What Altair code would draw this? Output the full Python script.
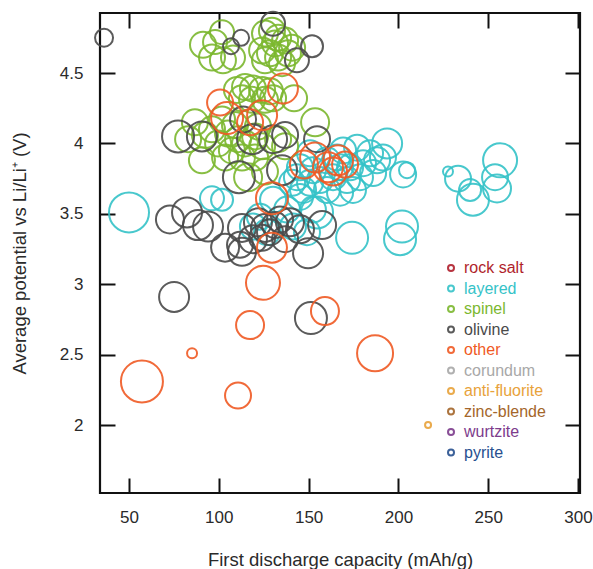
import altair as alt
import pandas as pd

# ---- data ----
categories = ["rock salt", "layered", "spinel", "olivine", "other", "corundum",
              "anti-fluorite", "zinc-blende", "wurtzite", "pyrite"]
colors = ["#b01f2c", "#35c3c8", "#7cb82f", "#4a4a4a", "#f05a24", "#a8a8a8",
          "#e8a23a", "#a4662a", "#7d3c8c", "#27508f"]

# layered
layered_cap = [50.0, 96.2, 101.8, 130.2, 122.9, 119.0, 126.8, 141.3, 149.1, 152.4, 145.2, 138.0,
               174.2, 202.0, 200.9, 169.2, 177.0, 184.2, 180.3, 173.1, 167.5, 163.6, 171.4, 178.6,
               185.9, 188.1, 156.3, 150.8, 143.5, 140.8, 146.9, 160.2, 167.5, 174.7, 152.4, 145.2,
               160.2, 150.8, 165.8, 193.7, 191.4, 202.6, 204.8, 256.6, 254.9, 253.8, 227.6, 233.2,
               239.9, 241.5, 154.7]
layered_pot = [3.51, 3.61, 3.60, 3.60, 3.48, 3.41, 3.37, 3.41, 3.37, 3.53, 3.62, 3.53,
               3.33, 3.41, 3.32, 3.95, 3.97, 3.93, 3.86, 3.83, 3.83, 3.76, 3.74, 3.76,
               3.79, 3.88, 3.74, 3.72, 3.76, 3.72, 3.67, 3.67, 3.65, 3.67, 3.81, 3.83,
               3.88, 3.93, 3.90, 4.00, 3.90, 3.78, 3.81, 3.88, 3.68, 3.76, 3.80, 3.75,
               3.67, 3.60, 3.51]
layered_vol = [20, 12, 11, 13, 13, 13, 13, 13, 13, 13, 13, 13,
               16, 16, 16, 13, 13, 13, 13, 13, 13, 13, 13, 13,
               13, 13, 13, 13, 13, 13, 13, 13, 13, 13, 13, 13,
               13, 13, 13, 15, 13, 13, 8, 17, 14, 13, 5, 13,
               11, 16, 16]

# spinel
spinel_cap = [125.7, 129.6, 133.0, 136.9, 124.1, 128.5, 133.0, 138.5, 125.7, 135.2, 140.8, 131.3,
              91.2, 101.8, 96.2, 102.3, 107.9, 97.9,
              110.1, 114.6, 119.0, 124.1, 128.5, 112.9, 118.5, 125.7, 130.2, 141.9,
              82.9, 86.7, 96.2, 101.8, 105.1, 110.7, 99.6, 107.3, 114.6, 120.2, 124.1,
              90.6, 116.3, 125.7, 120.2, 136.9, 153.6, 103.5, 112.9, 121.8, 133.0, 92.3, 109.0]
spinel_pot = [4.78, 4.80, 4.75, 4.73, 4.66, 4.64, 4.61, 4.64, 4.59, 4.57, 4.68, 4.71,
              4.70, 4.79, 4.61, 4.59, 4.61, 4.72,
              4.38, 4.40, 4.39, 4.38, 4.37, 4.32, 4.31, 4.31, 4.32, 4.32,
              4.03, 4.15, 4.10, 4.17, 4.07, 4.03, 4.00, 3.95, 4.00, 4.05, 3.98,
              3.88, 3.76, 3.80, 3.90, 3.98, 4.15, 3.90, 3.90, 4.12, 4.03, 4.06, 4.13]
spinel_vol = [13, 13, 13, 13, 13, 13, 13, 13, 13, 13, 13, 13,
              13, 12, 13, 13, 12, 12,
              13, 13, 13, 13, 13, 13, 13, 13, 13, 13,
              13, 13, 13, 13, 13, 13, 13, 13, 13, 13, 13,
              13, 14, 13, 13, 13, 14, 13, 13, 13, 13, 13, 13]

# olivine
olivine_cap = [36.1, 106.8, 112.4, 130.2, 143.5, 151.9, 113.5, 77.3, 90.6, 118.5, 130.2, 136.9,
               154.7, 135.2, 111.2, 75.1, 151.3,
               72.8, 82.3, 88.4, 94.0, 103.5, 112.9, 112.9, 121.8, 125.7, 128.5, 131.3,
               124.1, 134.1, 119.0, 139.6, 149.7, 157.5, 145.2, 111.8, 136.9]
olivine_pot = [4.75, 4.69, 4.75, 4.85, 4.59, 4.69, 4.17, 4.05, 4.05, 4.03, 4.03, 4.06,
               4.03, 3.81, 3.76, 2.91, 2.76,
               3.46, 3.51, 3.42, 3.41, 3.26, 3.23, 3.40, 3.44, 3.40, 3.37, 3.42,
               3.33, 3.46, 3.32, 3.44, 3.22, 3.42, 3.39, 3.28, 3.32]
olivine_vol = [9, 8, 8, 12, 12, 11, 13, 16, 15, 15, 14, 13,
               13, 15, 16, 15, 16,
               14, 15, 15, 15, 14, 14, 14, 14, 14, 13, 13,
               13, 13, 14, 14, 15, 14, 14, 13, 13]

# other
other_cap = [100.7, 104.6, 124.1, 117.4, 135.7, 129.6, 129.6,
             147.4, 153.6, 160.8, 166.4, 163.6, 170.3,
             57.2, 85.1, 110.7, 117.4, 124.6, 159.1, 187.0]
other_pot = [4.29, 4.18, 4.20, 4.15, 4.39, 3.61, 3.26,
             3.85, 3.90, 3.83, 3.88, 3.80, 3.85,
             2.31, 2.51, 2.21, 2.71, 3.01, 2.81, 2.51]
other_vol = [13, 16, 15, 13, 15, 16, 15,
             14, 15, 15, 15, 14, 13,
             21, 5, 13, 14, 17, 14, 18]

# anti-fluorite
antifluorite_cap = [216.5]
antifluorite_pot = [2.0]
antifluorite_vol = [3]

x_ticks = [50, 100, 150, 200, 250, 300]
y_ticks = [2, 2.5, 3, 3.5, 4, 4.5]
x_domain = [33.85, 301.1]
y_domain = [1.518, 4.926]

# ---- table (drawing order: layered, spinel, olivine, other, anti-fluorite) ----
rows = []
for name, xs, ys, vs in [("layered", layered_cap, layered_pot, layered_vol),
                         ("spinel", spinel_cap, spinel_pot, spinel_vol),
                         ("olivine", olivine_cap, olivine_pot, olivine_vol),
                         ("other", other_cap, other_pot, other_vol),
                         ("anti-fluorite", antifluorite_cap, antifluorite_pot, antifluorite_vol)]:
    for a, b, c in zip(xs, ys, vs):
        rows.append({"structure": name, "capacity": a, "potential": b, "vol": c})
df = pd.DataFrame(rows)
df["order"] = range(len(df))

FONT = "Liberation Sans"
TXT = "#2a2a2a"
LINE = "#111111"

base = alt.Chart(df)

points = base.mark_point(filled=False, strokeWidth=2, opacity=0.9).encode(
    x=alt.X("capacity:Q",
            scale=alt.Scale(domain=x_domain, nice=False, zero=False),
            axis=alt.Axis(orient="bottom", values=x_ticks, format="d", offset=-15, tickSize=15,
                          tickWidth=2, tickColor=LINE, domain=False, grid=False, labelPadding=16,
                          labelFontSize=17, labelFont=FONT, labelColor=TXT,
                          title="First discharge capacity (mAh/g)", titleFontSize=18.5,
                          titleFont=FONT, titleColor=TXT, titleFontWeight="normal",
                          titlePadding=25)),
    y=alt.Y("potential:Q",
            scale=alt.Scale(domain=y_domain, nice=False, zero=False),
            axis=alt.Axis(orient="left", values=y_ticks, format="~g", offset=-15, tickSize=15,
                          tickWidth=2, tickColor=LINE, domain=False, grid=False, labelPadding=17,
                          labelFontSize=17, labelFont=FONT, labelColor=TXT,
                          title="Average potential vs Li/Li\u207a (V)", titleFontSize=18.5,
                          titleFont=FONT, titleColor=TXT, titleFontWeight="normal",
                          titlePadding=30)),
    color=alt.Color("structure:N",
                    scale=alt.Scale(domain=categories, range=colors),
                    legend=alt.Legend(orient="none", legendX=343, legendY=247, title=None,
                                      symbolType="circle", symbolSize=36, symbolStrokeWidth=2,
                                      symbolFillColor="transparent",
                                      labelFontSize=16, labelFont=FONT, labelOffset=5,
                                      labelColor=alt.ExprRef("scale('color', datum.value)"),
                                      rowPadding=4.5, padding=0, labelLimit=300)),
    size=alt.Size("vol:Q", scale=alt.Scale(type="pow", exponent=2, domain=[0, 20],
                                           range=[0, 1600]), legend=None),
    order=alt.Order("order:Q"),
)

mirror = base.mark_point(opacity=0).encode(
    x=alt.X("capacity:Q",
            scale=alt.Scale(domain=x_domain, nice=False, zero=False),
            axis=alt.Axis(orient="top", values=x_ticks, offset=-15, tickSize=15, tickWidth=2,
                          tickColor=LINE, domain=False, grid=False, labels=False, title=None)),
    y=alt.Y("potential:Q",
            scale=alt.Scale(domain=y_domain, nice=False, zero=False),
            axis=alt.Axis(orient="right", values=y_ticks, offset=-15, tickSize=15, tickWidth=2,
                          tickColor=LINE, domain=False, grid=False, labels=False, title=None)),
)

chart = alt.layer(points, mirror).resolve_scale(
    x="independent", y="independent"
).properties(
    width=480, height=480,
    autosize=alt.AutoSizeParams(type="none"),
    padding={"left": 100, "top": 13, "right": 13, "bottom": 76},
    background="white",
).configure_view(
    stroke=LINE, strokeWidth=2.2
)

chart.save("out.html", embed_options={"renderer": "svg", "actions": False})
